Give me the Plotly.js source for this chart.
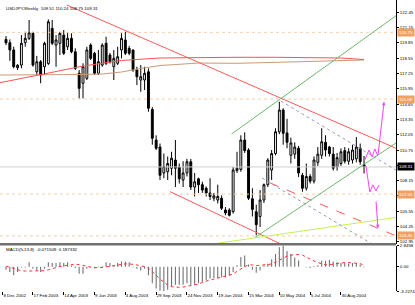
<!DOCTYPE html>
<html><head><meta charset="utf-8">
<script src="https://cdn.plot.ly/plotly-3.0.1.min.js"></script>
<style>html,body{margin:0;padding:0;background:#fff}#chart{width:415px;height:305px}</style>
</head><body><div id="chart"></div>
<script>
// ---- weekly USDJPY candles (bar index 0 = week of 29 Dec 2002) ----
const open = [120.15,119.87,119.25,117.75,117.97,119.87,120.24,120.67,117.40,118.25,
117.83,118.10,121.09,119.67,119.82,120.52,119.53,120.24,119.10,117.27,
116.42,116.84,119.67,118.97,117.27,117.97,119.82,118.82,117.83,118.12,
119.25,120.10,119.39,119.25,117.55,116.70,116.70,117.40,114.20,111.60,
111.00,108.80,108.90,109.20,109.90,109.30,108.20,108.80,109.75,107.60,
108.30,107.80,107.50,107.10,106.65,106.50,106.65,105.65,105.65,105.50,
109.00,109.10,111.60,110.75,106.60,105.50,105.10,106.50,107.80,109.05,
110.45,112.30,114.15,112.20,110.30,110.40,110.90,108.60,107.50,108.50,
108.10,109.70,110.30,111.40,111.00,110.40,109.30,109.60,110.70,109.80,
109.90,110.00,110.90,109.51];
const high = [120.44,120.15,119.53,118.05,120.52,120.80,121.80,120.80,118.75,118.40,
119.95,121.85,121.80,120.52,120.80,120.95,120.72,120.67,119.39,117.55,
118.12,119.53,119.82,119.10,119.25,119.82,120.38,119.00,119.25,119.53,
120.67,120.80,119.60,119.30,117.83,117.97,117.83,117.69,114.40,112.00,
111.30,110.45,110.20,110.60,111.60,109.60,109.80,110.00,110.00,108.80,
108.40,108.05,107.65,108.35,107.10,107.80,106.90,105.90,105.80,109.30,
110.60,112.00,112.25,110.90,107.50,106.10,107.35,107.90,110.05,110.75,
112.60,114.85,114.30,113.40,111.80,111.40,111.10,108.80,109.60,108.70,
110.20,111.00,112.60,112.00,111.10,111.00,110.50,110.90,111.00,110.90,
111.20,111.85,111.30,110.24];
const low = [119.67,118.33,117.69,117.55,117.69,119.53,120.10,117.83,117.12,116.42,
117.12,117.97,119.67,117.83,118.82,118.82,119.25,118.97,117.55,115.14,
115.14,116.70,118.40,117.12,117.12,117.83,117.97,118.10,116.70,117.97,
118.54,118.82,118.80,117.40,116.27,115.70,115.85,114.00,111.20,110.75,
108.20,108.35,108.20,108.60,107.60,107.90,107.60,108.50,107.35,106.80,
107.10,107.10,106.80,106.50,106.40,106.20,105.65,105.20,105.10,105.35,
108.80,108.90,110.50,106.50,105.10,103.50,104.20,106.25,107.60,108.20,
110.30,112.10,111.20,110.90,109.60,110.00,108.45,107.20,107.30,107.90,
107.90,109.40,110.00,110.20,110.20,109.00,109.00,109.40,109.60,109.50,
109.60,109.70,109.50,108.75];
const close = [119.86,119.25,117.83,117.95,119.82,120.24,120.70,117.97,118.25,117.12,
119.82,121.65,119.82,120.10,120.67,118.97,120.24,119.10,117.69,115.99,
117.83,119.25,118.54,117.27,118.25,119.67,118.12,118.25,118.54,118.68,
120.24,118.97,118.97,117.55,116.98,116.98,117.27,114.30,111.75,110.90,
108.60,109.35,109.60,110.05,109.20,108.30,108.80,109.75,107.60,108.05,
107.80,107.35,107.10,106.80,106.85,106.80,105.80,105.40,105.20,109.05,
109.20,111.60,110.70,106.65,105.70,104.40,106.50,107.80,109.90,110.45,
112.30,114.15,112.17,111.40,111.35,111.00,108.80,107.50,108.50,108.10,
109.90,110.40,111.45,110.75,110.45,109.20,110.10,110.60,109.80,110.60,
110.75,111.00,109.75,109.31];

// ---- MACD panel ----
const macdMain = [-0.39,-0.70,-1.13,-0.70,-0.10,-0.10,0.60,-0.26,-0.48,-0.70,
-0.26,0.60,0.52,0.52,0.60,0.52,0.60,0.17,-0.17,-0.91,
-0.91,-0.26,-0.05,-0.17,-0.05,0.10,0.60,0.52,0.17,0.52,
0.70,0.70,0.60,-0.05,-0.26,-0.48,-0.26,-1.13,-2.20,-2.90,
-3.20,-3.22,-3.05,-2.60,-2.40,-2.40,-2.40,-2.20,-2.40,-2.40,
-2.20,-2.00,-1.80,-1.57,-1.50,-1.50,-1.40,-1.40,-1.20,-0.70,
0.20,1.30,1.50,0.30,-0.40,-0.80,-0.50,0.20,0.40,1.00,
1.70,2.60,2.85,2.10,1.70,1.26,0.83,0.00,-0.05,-0.17,
0.10,0.20,0.80,0.80,0.90,0.70,0.60,0.50,0.50,0.45,
0.50,0.50,0.30,-0.07];
const macdSignal = [0.09,-0.09,-0.26,-0.43,-0.52,-0.57,-0.57,-0.57,-0.60,-0.60,
-0.52,-0.39,-0.22,-0.09,0.04,0.13,0.22,0.30,0.35,0.30,
0.22,0.09,-0.04,-0.13,-0.13,-0.09,0.00,0.09,0.13,0.22,
0.30,0.39,0.39,0.35,0.26,0.13,0.04,-0.17,-0.60,-1.13,
-1.65,-2.09,-2.43,-2.65,-2.74,-2.74,-2.70,-2.60,-2.52,-2.43,
-2.30,-2.09,-1.90,-1.74,-1.65,-1.52,-1.39,-1.26,-1.13,-0.96,
-0.60,-0.26,0.04,0.22,0.26,0.17,0.17,0.26,0.30,0.39,
0.61,0.87,1.17,1.43,1.57,1.65,1.65,1.57,1.35,1.04,
0.78,0.57,0.39,0.26,0.26,0.35,0.43,0.52,0.57,0.57,
0.52,0.48,0.43,0.19];
const macdTicks = [2.8458, 0, -3.2274];
const macdTickText = ['2.8458','0.00','-3.2274'];

// ---- moving averages (read at selected bars) ----
const maRedIdx = [-1.6,0,10,20,30,40,50,60,70,80,87,93];
const maRed = [116.47,116.57,117.22,117.89,118.36,118.57,118.62,118.63,118.63,118.63,118.57,118.44];
const maBrownIdx = [-1.6,0,10,20,25,30,35,40,50,60,70,80,93];
const maBrown = [117.12,117.12,117.12,117.17,117.21,117.38,117.68,117.93,118.14,118.12,118.20,118.27,118.40];

// ---- drawn trend lines: [bar index], [price] ----
const redUpperX = [15.8, 101.3], redUpperY = [123.07, 110.90];
const redLowerX = [42.6, 73.0], redLowerY = [107.21, 102.51];
const redDashX = [68.6, 101.3], redDashY = [107.95, 103.45];
const greenUpperX = [58.6, 101.3], greenUpperY = [112.11, 122.16];
const greenLowerX = [64.6, 101.3], greenLowerY = [103.30, 111.35];
const limeX = [54.7, 101.3], limeY = [102.81, 105.02];
const grayUpperX = [71.4, 101.3], grayUpperY = [114.91, 109.05];
const grayLowerX = [66.5, 95.1], grayLowerY = [108.37, 102.76];

// ---- projection zigzags ----
const projUpX = [93.2, 94.3, 95.1, 95.8, 96.6], projUpY = [109.90, 110.75, 110.16, 110.84, 110.24];
const projUpArrow = {fromX: 96.6, fromY: 110.24, toX: 98.2, toY: 114.85};
const projMidX = [93.5, 94.5, 95.3, 96.1, 96.9], projMidY = [109.39, 107.18, 107.78, 107.27, 107.78];
const projDownArrow = {fromX: 96.1, fromY: 106.5, toX: 96.6, toY: 104.1};

// ---- horizontal levels ----
const levels = [120.75, 115.08, 107.00, 103.45];
const levelText = ['120.75', '115.08', '107.00', '103.45'];
const lastPrice = 109.31;

// ---- axis ticks ----
const priceTicks = [102.95,104.25,105.55,106.85,108.15,109.45,110.75,112.05,113.35,114.65,115.95,117.25,118.55,119.85,121.15,122.45];
const dateTickPos = [-0.8, 7, 15, 23, 31, 39, 47, 55, 63, 71, 79, 87];
const dateTickText = ['8 Dec 2002','17 Feb 2003','14 Apr 2003','9 Jun 2003','4 Aug 2003','29 Sep 2003','24 Nov 2003','19 Jan 2004','15 Mar 2004','10 May 2004','5 Jul 2004','30 Aug 2004'];

const headerText = 'USDJPY,Weekly  109.51 110.24 108.75 109.31';
const macdHeader = 'MACD(5,13,8)  -0.071509  0.187332';

// ------------------------------------------------------------
const idx = open.map((_, k) => k);
const XR = [-1.56, 101.3];
const FONT = 'Liberation Sans, Arial, sans-serif';
const FS = 4.4;

function line(x, y, color, dash, xa, ya) {
  return {type:'scatter', mode:'lines', x:x, y:y, xaxis:xa||'x', yaxis:ya||'y',
    line:{color:color, width:1, dash:dash||'solid'}, hoverinfo:'skip'};
}

const traces = [];
levels.forEach(v => traces.push(line(XR, [v, v], '#F8CDA8', 'dot')));
traces.push(line(XR, [lastPrice, lastPrice], '#CFCFCF'));
traces.push(line(maBrownIdx, maBrown, '#C89A78'));
traces.push(line(maRedIdx, maRed, '#FF5050'));
traces.push(line(redUpperX, redUpperY, '#FF5A5A'));
traces.push(line(redLowerX, redLowerY, '#FF5A5A'));
traces.push(line(redDashX, redDashY, '#FF5A5A', 'dash'));
traces.push(line(greenUpperX, greenUpperY, '#6DB86D'));
traces.push(line(greenLowerX, greenLowerY, '#6DB86D'));
traces.push(line(limeX, limeY, '#C8F050'));
traces.push(line(grayUpperX, grayUpperY, '#9A9AB8', 'dot'));
traces.push(line(grayLowerX, grayLowerY, '#9A9AB8', 'dot'));

traces.push({type:'candlestick', x:idx, open:open, high:high, low:low, close:close,
  xaxis:'x', yaxis:'y', whiskerwidth:0,
  increasing:{line:{color:'#000', width:1}, fillcolor:'#ffffff'},
  decreasing:{line:{color:'#000', width:1}, fillcolor:'#000000'},
  hoverinfo:'skip'});

traces.push(line(projUpX, projUpY, '#FF40FF'));
traces.push(line(projMidX, projMidY, '#FF40FF'));

traces.push({type:'bar', x:idx, y:macdMain, xaxis:'x2', yaxis:'y2', width:0.28,
  marker:{color:'#707070', line:{width:0}}, hoverinfo:'skip'});
traces.push(line(idx, macdSignal, '#FF3030', 'dot', 'x2', 'y2'));

const annotations = [
  {xref:'paper', yref:'paper', x:0.009, y:(305-9)/305, xanchor:'left', yanchor:'middle',
   text:headerText, showarrow:false, font:{family:FONT, size:FS, color:'#000'}},
  {xref:'paper', yref:'paper', x:0.009, y:(305-249)/305, xanchor:'left', yanchor:'middle',
   text:macdHeader, showarrow:false, font:{family:FONT, size:FS, color:'#000'}},
  {xref:'x', yref:'y', x:projUpArrow.toX, y:projUpArrow.toY, axref:'x', ayref:'y',
   ax:projUpArrow.fromX, ay:projUpArrow.fromY, showarrow:true, arrowhead:2, arrowsize:0.7,
   arrowwidth:1, arrowcolor:'#FF40FF', text:''},
  {xref:'x', yref:'y', x:projDownArrow.toX, y:projDownArrow.toY, axref:'x', ayref:'y',
   ax:projDownArrow.fromX, ay:projDownArrow.fromY, showarrow:true, arrowhead:2, arrowsize:0.7,
   arrowwidth:1, arrowcolor:'#FF40FF', text:''}
];
levels.forEach((v, k) => annotations.push({xref:'paper', yref:'y', x:0.9566, y:v,
  xanchor:'left', yanchor:'middle', text:levelText[k], showarrow:false, bgcolor:'#F0A060',
  borderpad:1, font:{family:FONT, size:FS, color:'#fff'}}));
annotations.push({xref:'paper', yref:'y', x:0.9566, y:lastPrice, xanchor:'left', yanchor:'middle',
  text:lastPrice.toFixed(2), showarrow:false, bgcolor:'#000', borderpad:1,
  font:{family:FONT, size:FS, color:'#fff'}});

const axFont = {family:FONT, size:FS, color:'#000'};
const layout = {
  width:415, height:305, margin:{l:0, r:0, t:0, b:0},
  paper_bgcolor:'#fff', plot_bgcolor:'#fff', showlegend:false, dragmode:false,
  xaxis:{domain:[0, 0.9542], range:XR, anchor:'y', showticklabels:false, showgrid:false,
    zeroline:false, showline:false, ticks:'', rangeslider:{visible:false}},
  yaxis:{domain:[0.2, 1], range:[102.76, 123.5], side:'right', anchor:'x', showgrid:false,
    zeroline:false, showline:true, linecolor:'#000', linewidth:1, ticks:'outside', ticklen:2,
    tickcolor:'#000', tickvals:priceTicks, ticktext:priceTicks.map(v => v.toFixed(2)),
    tickfont:axFont},
  xaxis2:{domain:[0, 0.9542], range:XR, anchor:'y2', showgrid:false, zeroline:false,
    showline:false, ticks:'outside', ticklen:3, tickcolor:'#000', tickvals:dateTickPos,
    ticktext:dateTickText, ticklabelposition:'outside right', tickangle:0, tickfont:axFont},
  yaxis2:{domain:[(305-291)/305, (305-245.5)/305], range:[-3.2274, 2.8458], side:'right',
    anchor:'x2', showgrid:false, zeroline:false, showline:true, linecolor:'#000', linewidth:1,
    ticks:'outside', ticklen:2, tickcolor:'#000', tickvals:macdTicks, ticktext:macdTickText,
    tickfont:axFont},
  shapes:[{type:'rect', xref:'paper', yref:'paper', x0:0, x1:0.9542,
    y0:(305-245.5)/305, y1:(305-243)/305, fillcolor:'#707070', line:{width:0}}],
  annotations:annotations
};

Plotly.newPlot('chart', traces, layout, {staticPlot:true, displayModeBar:false});
</script>
</body></html>
